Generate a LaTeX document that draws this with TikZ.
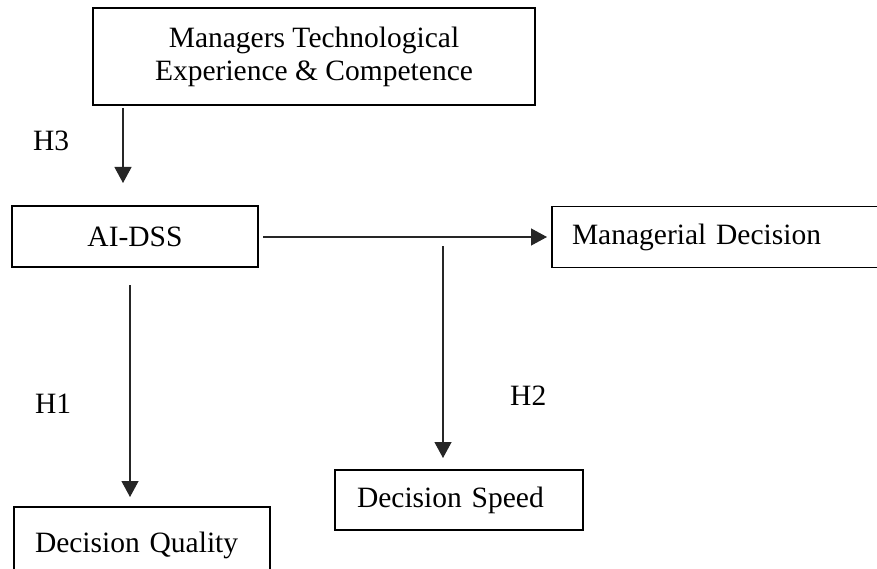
\documentclass[tikz,border=0pt]{standalone}
\usepackage{fontspec}
\setmainfont{Liberation Serif}
\usetikzlibrary{arrows.meta}
\begin{document}
\begin{tikzpicture}[x=1pt,y=-1pt,
  box/.style={draw=black,line width=1.6pt,inner sep=0pt,font=\fontsize{29.5}{33}\selectfont},
  lbl/.style={anchor=base west,inner sep=0pt,font=\fontsize{29.5}{33}\selectfont},
  arr/.style={draw=black!85,line width=1.2pt,-{Triangle[width=17pt,length=16pt]}}]
\useasboundingbox[fill=white] (0,0) rectangle (877,569);
% boxes
\node[box,minimum width=442pt,minimum height=97pt,align=center] (mgr) at (314,56.5)
  {Managers Technological\\Experience \& Competence};
\node[box,minimum width=246pt,minimum height=61pt] (ai) at (135,236.5) {AI-DSS};
\node[box,minimum width=330pt,minimum height=61pt,text width=290pt,align=left] (md) at (717,237)
  {Managerial Decision};
\node[box,minimum width=248pt,minimum height=60pt,text width=204pt,align=left] (ds) at (459,500)
  {Decision Speed};
\node[box,minimum width=256pt,minimum height=76pt,text width=214pt,align=left] (dq) at (142,545)
  {Decision Quality};
% labels
\node[lbl] (h3) at (33,151) {H3};
\node[lbl] (h1) at (35,413) {H1};
\node[lbl] (h2) at (510,405) {H2};
% connector ends
\coordinate (h3s) at (123,108);
\coordinate (h3e) at (123,183);
\coordinate (h1s) at (130,285);
\coordinate (h1e) at (130,497);
\coordinate (h2s) at (443,246);
\coordinate (h2e) at (443,458);
\coordinate (hs) at (263,237);
\coordinate (he) at (547,237);
% connectors
\draw[arr] (h3s) -- (h3e);
\draw[arr] (hs) -- (he);
\draw[arr] (h2s) -- (h2e);
\draw[arr] (h1s) -- (h1e);
\end{tikzpicture}
\end{document}
